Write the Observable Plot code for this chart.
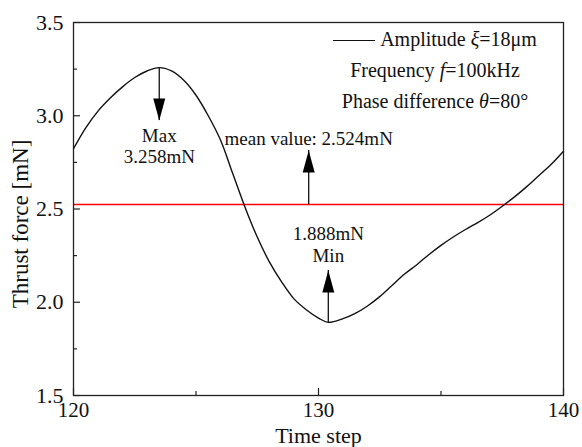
<!DOCTYPE html>
<html><head><meta charset="utf-8">
<script src="https://cdn.jsdelivr.net/npm/d3@7"></script>
<script src="https://cdn.jsdelivr.net/npm/@observablehq/plot@0.6"></script>
<style>
body{margin:0;background:#fff;}
#wrap{position:relative;width:582px;height:447px;font-family:"Liberation Serif","Times New Roman",serif;}
#legend{position:absolute;left:315px;top:24px;width:240px;text-align:center;font-size:20px;line-height:31px;color:#111;white-space:nowrap;}
#legend .sw{display:inline-block;width:42px;border-top:1.4px solid #111;vertical-align:middle;margin-right:5px;position:relative;top:-1px;}
</style></head><body><div id="wrap"><div id="legend">
<div><span class="sw"></span>Amplitude <i>ξ</i>=18μm</div>
<div>Frequency <i>f</i>=100kHz</div>
<div>Phase difference <i>θ</i>=80°</div>
</div></div>
<script>
// Series
const timeSteps = [120,120.5,121,121.5,122,122.5,123,123.5,124,124.5,125,125.5,126,126.5,127,127.5,128,128.5,129,129.5,130,130.4,131,131.5,132,132.5,133,133.5,134,134.5,135,135.5,136,136.5,137,137.5,138,138.5,139,139.5,140];
const thrust    = [2.823,2.935,3.025,3.095,3.155,3.205,3.24,3.258,3.24,3.19,3.11,3.00,2.87,2.69,2.51,2.35,2.215,2.108,2.018,1.96,1.915,1.892,1.912,1.94,1.98,2.03,2.09,2.15,2.20,2.255,2.305,2.35,2.39,2.427,2.468,2.515,2.565,2.62,2.68,2.74,2.81];
const meanValue = 2.524;

// Axis ticks
const xMajor = [120,130,140];
const xMinor = [125,135];
const yMajor = [1.5,2.0,2.5,3.0,3.5];
const yMinor = [1.75,2.25,2.75,3.25];

// Annotations
const annoText = ["Max","3.258mN","mean value: 2.524mN","1.888mN","Min"];
const annoX = [123.5,123.5,129.6,130.4,130.4];
const annoY = [2.894,2.782,2.878,2.369,2.251];

const arrowX    = [123.5,129.6,130.4];
const arrowFrom = [3.258,2.524,1.892];
const arrowTip  = [2.975,2.814,2.17];
const arrowDir  = ["down","up","up"];

const data = timeSteps.map((t,i)=>({t, v: thrust[i]}));
const arrows = arrowX.map((x,i)=>({x, from: arrowFrom[i], tip: arrowTip[i], dir: arrowDir[i]}));
const annos = annoText.map((s,i)=>({s, x: annoX[i], y: annoY[i]}));

const HW = 6, HL = 22;
const arrowDown = {draw(ctx){ ctx.moveTo(0,0); ctx.lineTo(-HW,-HL); ctx.lineTo(HW,-HL); ctx.closePath(); }};
const arrowUp   = {draw(ctx){ ctx.moveTo(0,0); ctx.lineTo(-HW,HL); ctx.lineTo(HW,HL); ctx.closePath(); }};

const W = 582, H = 447, mL = 73, mR = 19, mT = 22, mB = 52;
const innerW = W - mL - mR, innerH = H - mT - mB;
const ink = "#222";

const chart = Plot.plot({
  width: W, height: H,
  marginLeft: mL, marginRight: mR, marginTop: mT, marginBottom: mB,
  style: {fontFamily: '"Liberation Serif","Times New Roman",serif', fontSize: "22px", color: "#111", background: "transparent"},
  x: {domain: [120,140]},
  y: {domain: [1.5,3.5]},
  marks: [
    Plot.ruleY([meanValue], {stroke: "#ff0000", strokeWidth: 1.3}),
    Plot.line(data, {x: "t", y: "v", curve: "catmull-rom", stroke: "#111", strokeWidth: 1.4}),
    Plot.ruleX(arrows, {x: "x", y1: "from", y2: "tip", stroke: "#111", strokeWidth: 1.3}),
    Plot.dot(arrows.filter(d=>d.dir==="down"), {x: "x", y: "tip", symbol: arrowDown, fill: "#000", stroke: "none"}),
    Plot.dot(arrows.filter(d=>d.dir==="up"), {x: "x", y: "tip", symbol: arrowUp, fill: "#000", stroke: "none"}),
    Plot.text(annos, {x: "x", y: "y", text: "s", fontSize: 19, fill: "#111"}),
    Plot.ruleX(xMajor, {x: d=>d, insetTop: innerH - 7, stroke: ink, strokeWidth: 1.2}),
    Plot.ruleX(xMinor, {x: d=>d, insetTop: innerH - 4, stroke: ink, strokeWidth: 1.2}),
    Plot.ruleY(yMajor, {y: d=>d, insetRight: innerW - 7, stroke: ink, strokeWidth: 1.2}),
    Plot.ruleY(yMinor, {y: d=>d, insetRight: innerW - 4, stroke: ink, strokeWidth: 1.2}),
    Plot.axisX({ticks: xMajor, tickSize: 0, tickPadding: 7, label: null, fontSize: 21, tickFormat: d=>String(d)}),
    Plot.axisY({ticks: yMajor, tickSize: 0, tickPadding: 10, label: null, fontSize: 22, tickFormat: d3.format(".1f")}),
    Plot.text(["Time step"], {frameAnchor: "bottom", dy: 47, fontSize: 22, fill: "#111"}),
    Plot.text(["Thrust force [mN]"], {frameAnchor: "left", textAnchor: "middle", dx: -53, dy: 15, rotate: -90, fontSize: 23, fill: "#111"}),
    Plot.frame({stroke: ink, strokeWidth: 1.3})
  ]
});
document.getElementById("wrap").prepend(chart);
</script>
</body></html>
